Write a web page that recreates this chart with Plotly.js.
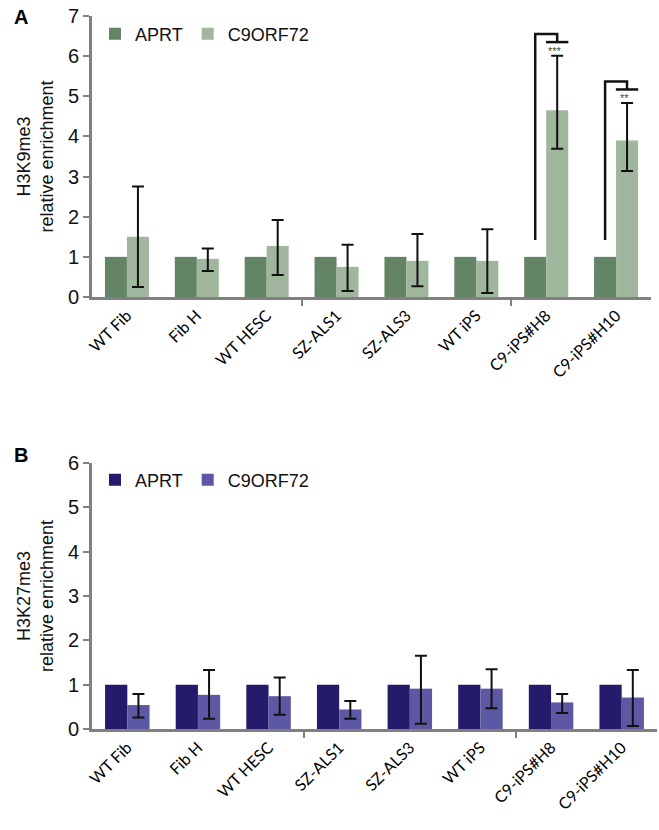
<!DOCTYPE html>
<html>
<head>
<meta charset="utf-8">
<script src="https://cdn.plot.ly/plotly-3.0.1.min.js"></script>
<style>html,body{margin:0;padding:0;background:#fff;}#chart{width:659px;height:830px;}</style>
</head>
<body>
<div id="chart"></div>
<script>
// ---- data ----
var categories = ['WT Fib', 'Fib H', 'WT HESC', 'SZ-ALS1', 'SZ-ALS3', 'WT iPS', 'C9-iPS#H8', 'C9-iPS#H10'];
var seriesNames = ['APRT', 'C9ORF72'];

// Panel A: H3K9me3
var k9_APRT = [1, 1, 1, 1, 1, 1, 1, 1];
var k9_C9 = [1.50, 0.95, 1.27, 0.75, 0.90, 0.90, 4.65, 3.90];
var k9_C9_errPlus = [1.25, 0.26, 0.65, 0.55, 0.67, 0.79, 1.36, 0.93];
var k9_C9_errMinus = [1.25, 0.30, 0.72, 0.60, 0.63, 0.80, 0.96, 0.76];
var k9_sigIndex = [6, 7];
var k9_sigLabels = ['***', '**'];

// Panel B: H3K27me3
var k27_APRT = [1, 1, 1, 1, 1, 1, 1, 1];
var k27_C9 = [0.54, 0.77, 0.74, 0.44, 0.91, 0.91, 0.60, 0.71];
var k27_C9_errPlus = [0.25, 0.56, 0.42, 0.19, 0.74, 0.44, 0.19, 0.62];
var k27_C9_errMinus = [0.28, 0.54, 0.42, 0.21, 0.79, 0.44, 0.24, 0.64];

var yTicksA = [0, 1, 2, 3, 4, 5, 6, 7];
var yTicksB = [0, 1, 2, 3, 4, 5, 6];

// ---- styles ----
var FONT = 'Liberation Sans, Arial, sans-serif';
var LABFONT = 'Lato, Open Sans, sans-serif';
var AXC = '#808080';
var colA = ['#648466', '#a0b79d'];
var colB = ['#251b6b', '#5d58a3'];
var idx = categories.map(function (_, i) { return i; });

function barTrace(y, name, color, xa, ya, leg, err) {
  var t = {
    type: 'bar', x: idx, y: y, name: name, xaxis: xa, yaxis: ya, legend: leg,
    marker: {color: color, line: {width: 0}}
  };
  if (err) {
    t.error_y = {type: 'data', symmetric: false, array: err[0], arrayminus: err[1],
      color: '#111', thickness: 2, width: 6};
  } else {
    t.error_y = {visible: false};
  }
  return t;
}

var data = [
  barTrace(k9_APRT, seriesNames[0], colA[0], 'x', 'y', 'legend'),
  barTrace(k9_C9, seriesNames[1], colA[1], 'x', 'y', 'legend', [k9_C9_errPlus, k9_C9_errMinus]),
  barTrace(k27_APRT, seriesNames[0], colB[0], 'x2', 'y2', 'legend2'),
  barTrace(k27_C9, seriesNames[1], colB[1], 'x2', 'y2', 'legend2', [k27_C9_errPlus, k27_C9_errMinus])
];

function xAxis(domain, anchor) {
  return {
    domain: domain, anchor: anchor, range: [-0.5, categories.length - 0.5],
    tickmode: 'array', tickvals: idx, ticktext: categories, tickangle: -45,
    tickfont: {family: LABFONT, size: 16, color: '#000'},
    ticks: '', showgrid: false, zeroline: false,
    showline: true, linecolor: AXC, linewidth: 3,
    minor: {ticks: 'outside', tickmode: 'array', tickvals: [2.5, 5.5], ticklen: 6, tickwidth: 2, tickcolor: AXC, showgrid: false},
    fixedrange: true
  };
}
function yAxis(domain, anchor, ticks, title) {
  return {
    domain: domain, anchor: anchor, range: [0, ticks[ticks.length - 1]],
    tickmode: 'array', tickvals: ticks, ticks: 'outside', ticklen: 6, tickwidth: 2, tickcolor: AXC,
    tickfont: {family: FONT, size: 20, color: '#111'},
    showgrid: false, zeroline: false, showline: true, linecolor: AXC, linewidth: 3,
    title: {text: title, font: {family: FONT, size: 18, color: '#111'}, standoff: 10},
    fixedrange: true
  };
}

// significance brackets for panel A
var shapes = [];
var annotations = [];
var off = 0.157;
k9_sigIndex.forEach(function (i, k) {
  var top = k9_C9[i] + k9_C9_errPlus[i];
  var hLine = top + 0.34;
  var peak = top + 0.54;
  var xl = i - off, xr = i + off;
  shapes.push({type: 'path', xref: 'x', yref: 'y',
    path: 'M' + xl + ',' + (k9_APRT[i] + 0.42) + ' L' + xl + ',' + peak + ' L' + xr + ',' + peak + ' L' + xr + ',' + hLine,
    line: {color: '#111', width: 2.5}});
  shapes.push({type: 'line', xref: 'x', yref: 'y', x0: xr - 0.16, x1: xr + 0.16, y0: hLine, y1: hLine,
    line: {color: '#111', width: 2.5}});
  annotations.push({xref: 'x', yref: 'y', x: xr - 0.03, y: hLine, text: k9_sigLabels[k], showarrow: false,
    yanchor: 'top', yshift: -1, font: {family: FONT, size: 11, color: '#444'}});
});
annotations.push({xref: 'paper', yref: 'paper', x: 12 / 659, y: 1 - 4 / 830, xanchor: 'left', yanchor: 'top',
  text: '<b>A</b>', showarrow: false, font: {family: FONT, size: 20, color: '#000'}});
annotations.push({xref: 'paper', yref: 'paper', x: 12 / 659, y: 1 - 442 / 830, xanchor: 'left', yanchor: 'top',
  text: '<b>B</b>', showarrow: false, font: {family: FONT, size: 20, color: '#000'}});

var legendBase = {orientation: 'h', xanchor: 'left', yanchor: 'middle', bgcolor: 'rgba(0,0,0,0)',
  font: {family: FONT, size: 18, color: '#111'}, itemwidth: 30, tracegroupgap: 0, traceorder: 'normal'};

var layout = {
  width: 659, height: 830, margin: {l: 0, r: 0, t: 0, b: 0},
  paper_bgcolor: '#fff', plot_bgcolor: '#fff',
  barmode: 'group', bargap: 0.37, bargroupgap: 0,
  showlegend: true,
  legend: Object.assign({}, legendBase, {x: 95 / 659, y: 1 - 34 / 830}),
  legend2: Object.assign({}, legendBase, {x: 95 / 659, y: 1 - 480 / 830}),
  xaxis: xAxis([92 / 659, 651 / 659], 'y'),
  yaxis: yAxis([1 - 297 / 830, 1 - 16 / 830], 'x', yTicksA, 'H3K9me3<br>relative enrichment'),
  xaxis2: xAxis([92 / 659, 657 / 659], 'y2'),
  yaxis2: yAxis([1 - 729 / 830, 1 - 463 / 830], 'x2', yTicksB, 'H3K27me3<br>relative enrichment'),
  shapes: shapes,
  annotations: annotations
};

Plotly.newPlot('chart', data, layout, {displayModeBar: false, staticPlot: true});
</script>
</body>
</html>
